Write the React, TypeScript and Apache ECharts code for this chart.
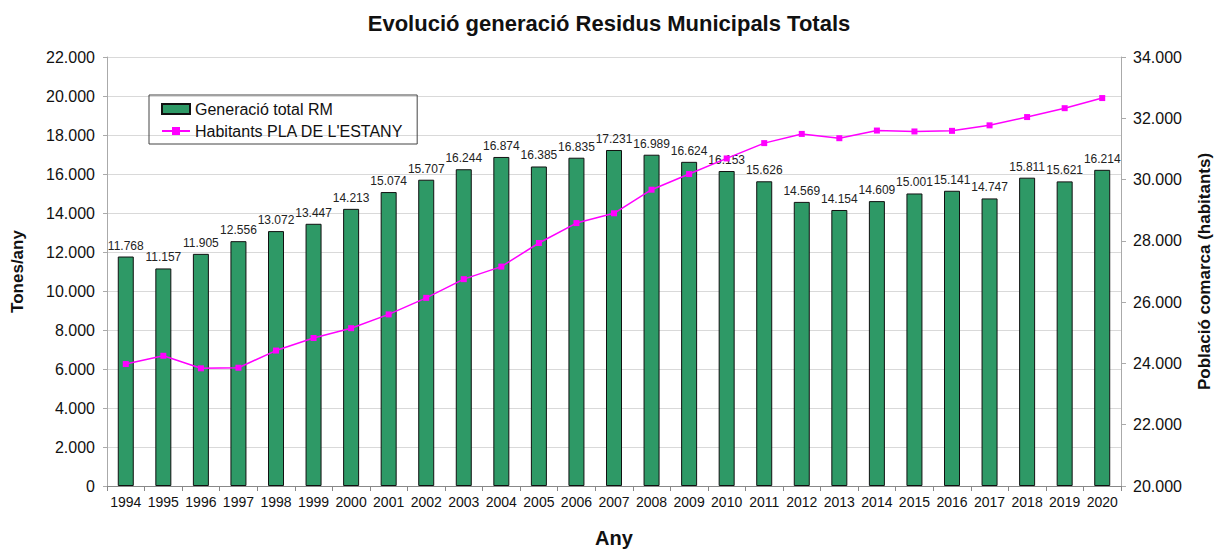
import React, { useEffect, useRef } from "react";
import * as echarts from "echarts";

const years = ["1994","1995","1996","1997","1998","1999","2000","2001","2002","2003","2004","2005","2006","2007","2008","2009","2010","2011","2012","2013","2014","2015","2016","2017","2018","2019","2020"];
const residus = [11768,11157,11905,12556,13072,13447,14213,15074,15707,16244,16874,16385,16835,17231,16989,16624,16153,15626,14569,14154,14609,15001,15141,14747,15811,15621,16214];
const habitants = [23980,24250,23840,23860,24420,24830,25150,25600,26140,26750,27160,27930,28580,28900,29670,30180,30690,31190,31490,31350,31600,31570,31590,31770,32040,32330,32660];

const FONT = "Arial, 'Liberation Sans', sans-serif";
const fmt = (v: number) => String(Math.round(v)).replace(/\B(?=(\d{3})+(?!\d))/g, ".");

export default function App() {
  const ref = useRef<HTMLDivElement>(null);
  useEffect(() => {
    const chart = echarts.init(ref.current!, undefined, { renderer: "svg" });
    chart.setOption({
      animation: false,
      backgroundColor: "#ffffff",
      textStyle: { fontFamily: FONT },
      title: {
        text: "Evolució generació Residus Municipals Totals",
        left: "center",
        top: 7,
        textStyle: { fontFamily: FONT, fontSize: 22, fontWeight: "bold", color: "#111" },
      },
      legend: {
        orient: "vertical",
        left: 149,
        top: 95,
        padding: [6, 14, 5, 12],
        itemGap: 6,
        itemWidth: 28,
        itemHeight: 10,
        borderColor: "#444",
        borderWidth: 1,
        textStyle: { fontFamily: FONT, fontSize: 16, color: "#111" },
        data: [
          { name: "Generació total RM", icon: "rect" },
          { name: "Habitants PLA DE L'ESTANY" },
        ],
      },
      grid: { left: 107, right: 97, top: 57, bottom: 65, containLabel: false, outerBoundsMode: "none" },
      xAxis: {
        type: "category",
        data: years,
        name: "Any",
        nameLocation: "middle",
        nameGap: 42,
        nameTextStyle: { fontFamily: FONT, fontSize: 20, fontWeight: "bold", color: "#111" },
        axisLine: { lineStyle: { color: "#888" } },
        axisTick: { show: true, alignWithLabel: false, lineStyle: { color: "#888" } },
        axisLabel: { fontFamily: FONT, fontSize: 14, color: "#111", margin: 9, interval: 0 },
      },
      yAxis: [
        {
          type: "value",
          min: 0,
          max: 22000,
          interval: 2000,
          name: "Tones/any",
          nameLocation: "middle",
          nameGap: 81,
          nameTextStyle: { fontFamily: FONT, fontSize: 17, fontWeight: "bold", color: "#111" },
          axisLine: { show: true, lineStyle: { color: "#aaa" } },
          axisTick: { show: true, length: 4, lineStyle: { color: "#aaa" } },
          axisLabel: { fontFamily: FONT, fontSize: 16, color: "#111", margin: 12, formatter: (v: number) => fmt(v) },
          splitLine: { show: true, lineStyle: { color: "#d9d9d9" } },
        },
        {
          type: "value",
          min: 20000,
          max: 34000,
          interval: 2000,
          position: "right",
          name: "Població comarca (habitants)",
          nameLocation: "middle",
          nameGap: 75,
          nameTextStyle: { fontFamily: FONT, fontSize: 17, fontWeight: "bold", color: "#111" },
          axisLine: { show: true, lineStyle: { color: "#aaa" } },
          axisTick: { show: true, length: 5, lineStyle: { color: "#aaa" } },
          axisLabel: { fontFamily: FONT, fontSize: 16, color: "#111", margin: 12, formatter: (v: number) => fmt(v) },
          splitLine: { show: false },
        },
      ],
      series: [
        {
          name: "Generació total RM",
          type: "bar",
          yAxisIndex: 0,
          data: residus,
          barWidth: 16,
          itemStyle: { color: "#2e9966", borderColor: "#111", borderWidth: 1 },
          label: {
            show: true,
            position: "top",
            distance: 5,
            fontFamily: FONT,
            fontSize: 12,
            color: "#222",
            formatter: (p: any) => fmt(p.value),
          },
        },
        {
          name: "Habitants PLA DE L'ESTANY",
          type: "line",
          yAxisIndex: 1,
          data: habitants,
          symbol: "rect",
          symbolSize: 6,
          lineStyle: { color: "#ff00ff", width: 1.5 },
          itemStyle: { color: "#ff00ff" },
          z: 5,
        },
      ],
    });
    return () => chart.dispose();
  }, []);
  return <div ref={ref} style={{ width: 1218, height: 551, position: "absolute", left: 0, top: 0 }} />;
}
